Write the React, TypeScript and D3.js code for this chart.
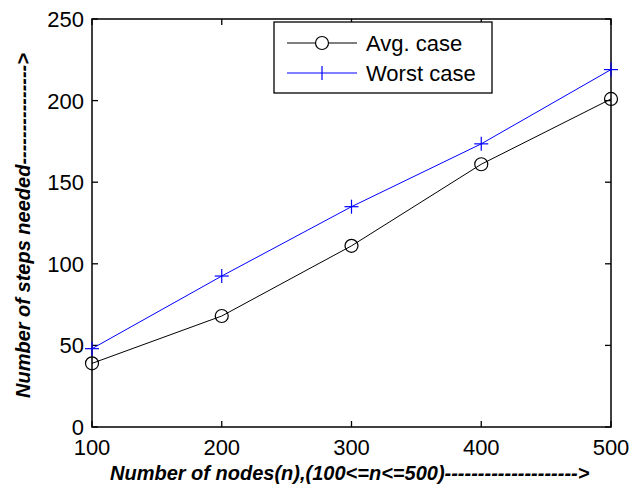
import React from "react";
import * as d3 from "d3";

// nodes (x) and steps needed for each case
const nodes = [100, 200, 300, 400, 500];
const avgCase = [39, 68, 111, 161, 201];
const worstCase = [48, 92.5, 135, 173.5, 219];
const xTicks = [100, 200, 300, 400, 500];
const yTicks = [0, 50, 100, 150, 200, 250];
const legendLabels = ["Avg. case", "Worst case"];

const W = 629, H = 489;
const margin = { top: 19, right: 18, bottom: 62, left: 92 };
const font = "'Liberation Sans', Arial, sans-serif";

function App() {
  const x = d3.scaleLinear().domain([100, 500]).range([margin.left, W - margin.right]);
  const y = d3.scaleLinear().domain([0, 250]).range([H - margin.bottom, margin.top]);
  const x0 = x.range()[0], x1 = x.range()[1];
  const y0 = y.range()[0], y1 = y.range()[1];
  const tick = 6;

  const line = d3.line<number>()
    .x((d, i) => x(nodes[i]))
    .y((d) => y(d));

  const lx = 287, lx2 = 357, ltx = 366;
  const ly = [43, 73];

  return (
    <svg width={W} height={H} style={{ position: "absolute", left: 0, top: 0, background: "#fff" }}>
      {/* inward ticks on all four sides */}
      {xTicks.map((t) => (
        <g key={"xt" + t}>
          <line x1={x(t)} x2={x(t)} y1={y0} y2={y0 - tick} stroke="#000" strokeWidth={1.3} />
          <line x1={x(t)} x2={x(t)} y1={y1} y2={y1 + tick} stroke="#000" strokeWidth={1.3} />
          <text x={x(t)} y={y0 + 28} textAnchor="middle" fontFamily={font} fontSize={22} fill="#000">{t}</text>
        </g>
      ))}
      {yTicks.map((t) => (
        <g key={"yt" + t}>
          <line x1={x0} x2={x0 + tick} y1={y(t)} y2={y(t)} stroke="#000" strokeWidth={1.3} />
          <line x1={x1} x2={x1 - tick} y1={y(t)} y2={y(t)} stroke="#000" strokeWidth={1.3} />
          <text x={x0 - 8} y={y(t)} dy="0.36em" textAnchor="end" fontFamily={font} fontSize={22} fill="#000">{t}</text>
        </g>
      ))}
      <rect x={x0} y={y1} width={x1 - x0} height={y0 - y1} fill="none" stroke="#000" strokeWidth={1.5} />

      {/* avg case */}
      <path d={line(avgCase) || ""} fill="none" stroke="#000" strokeWidth={1} />
      {avgCase.map((v, i) => (
        <circle key={"a" + i} cx={x(nodes[i])} cy={y(v)} r={6.5} fill="none" stroke="#000" strokeWidth={1.2} />
      ))}

      {/* worst case */}
      <path d={line(worstCase) || ""} fill="none" stroke="#0000ff" strokeWidth={1} />
      {worstCase.map((v, i) => (
        <g key={"w" + i} stroke="#0000ff" strokeWidth={1.2}>
          <line x1={x(nodes[i]) - 7} x2={x(nodes[i]) + 7} y1={y(v)} y2={y(v)} />
          <line x1={x(nodes[i])} x2={x(nodes[i])} y1={y(v) - 7} y2={y(v) + 7} />
        </g>
      ))}

      {/* legend */}
      <rect x={274} y={22} width={218} height={71} fill="#fff" stroke="#000" strokeWidth={1.3} />
      <line x1={lx} x2={lx2} y1={ly[0]} y2={ly[0]} stroke="#000" strokeWidth={1} />
      <circle cx={(lx + lx2) / 2} cy={ly[0]} r={6.5} fill="#fff" stroke="#000" strokeWidth={1.2} />
      <text x={ltx} y={ly[0]} dy="0.36em" fontFamily={font} fontSize={22} fill="#000">{legendLabels[0]}</text>
      <line x1={lx} x2={lx2} y1={ly[1]} y2={ly[1]} stroke="#0000ff" strokeWidth={1} />
      <line x1={(lx + lx2) / 2} x2={(lx + lx2) / 2} y1={ly[1] - 7} y2={ly[1] + 7} stroke="#0000ff" strokeWidth={1.2} />
      <text x={ltx} y={ly[1]} dy="0.36em" fontFamily={font} fontSize={22} fill="#000">{legendLabels[1]}</text>

      {/* axis titles */}
      <text x={110} y={480} fontFamily={font} fontSize={20} fontWeight="bold" fontStyle="italic" fill="#000">
        {"Number of nodes(n),(100<=n<=500)-------------------->"}
      </text>
      <text transform="translate(30,398) rotate(-90)" fontFamily={font} fontSize={20} fontWeight="bold" fontStyle="italic" fill="#000">
        {"Number of steps needed--------------->"}
      </text>
    </svg>
  );
}

export default App;
